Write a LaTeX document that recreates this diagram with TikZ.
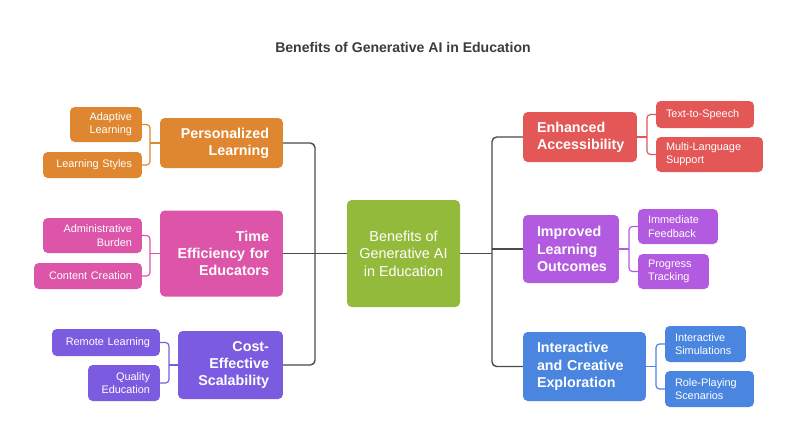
\documentclass[tikz,border=0pt]{standalone}
\usepackage{fontspec}
\setmainfont{Liberation Sans}
\definecolor{corange}{HTML}{DF8730}
\definecolor{cpink}{HTML}{DC55A8}
\definecolor{cpurple}{HTML}{7B5CE0}
\definecolor{cgreen}{HTML}{93BA3A}
\definecolor{cred}{HTML}{E35757}
\definecolor{cviolet}{HTML}{B35BE0}
\definecolor{cblue}{HTML}{4A86E0}
\definecolor{cline}{HTML}{4B4B4B}
\definecolor{ctitle}{HTML}{3C3C3C}
\begin{document}
\begin{tikzpicture}[x=0.03cm,y=-0.03cm,
	box/.style={rounded corners=4pt,text=white,inner ysep=0pt},
	mainL/.style={box,font=\fontsize{12.2}{14.7}\selectfont\bfseries,align=right,inner xsep=11.9pt},
	mainR/.style={box,font=\fontsize{12.2}{14.7}\selectfont\bfseries,align=left,inner xsep=11.9pt},
	subL/.style={box,font=\fontsize{9.3}{11.3}\selectfont,align=right,inner xsep=8.5pt},
	subR/.style={box,font=\fontsize{9.3}{11.3}\selectfont,align=left,inner xsep=8.5pt},
	trunk/.style={draw=cline,line width=1.2pt,rounded corners=4pt},
	branch/.style={line width=1pt,rounded corners=3pt}]
	\path[use as bounding box,fill=white] (0,0) rectangle (806,436);
	\node[font=\fontsize{12}{14}\selectfont\bfseries,text=ctitle] (title) at (403,47) {Benefits of Generative AI in Education};
	% centre
	\node[box,fill=cgreen,align=center,minimum width=3.39cm,minimum height=3.21cm,font=\fontsize{12.3}{15}\selectfont] (ai) at (403.5,253.5) {Benefits of\\Generative AI\\in Education};
	% left
	\node[mainL,fill=corange,text width=2.85cm,minimum height=1.5cm] (pers) at (221.5,143) {Personalized\\Learning};
	\node[mainL,fill=cpink,text width=2.85cm,minimum height=2.58cm] (time) at (221.5,253.5) {Time\\Efficiency for\\Educators};
	\node[mainL,fill=cpurple,text width=2.31cm,minimum height=2.04cm] (cost) at (230.5,365) {Cost-\\Effective\\Scalability};
	\node[subL,fill=corange,text width=1.56cm,minimum height=1.05cm] (adapt) at (106,124.5) {Adaptive\\Learning};
	\node[subL,fill=corange,text width=2.37cm,minimum height=0.78cm] (styles) at (92.5,165) {Learning Styles};
	\node[subL,fill=cpink,text width=2.37cm,minimum height=1.05cm] (admin) at (92.5,235.5) {Administrative\\Burden};
	\node[subL,fill=cpink,text width=2.64cm,minimum height=0.78cm] (content) at (88,276) {Content Creation};
	\node[subL,fill=cpurple,text width=2.64cm,minimum height=0.81cm] (remote) at (106,342.5) {Remote Learning};
	\node[subL,fill=cpurple,text width=1.56cm,minimum height=1.08cm] (quality) at (124,383) {Quality\\Education};
	% right
	\node[mainR,fill=cred,text width=2.58cm,minimum height=1.5cm] (acc) at (580,137) {Enhanced\\Accessibility};
	\node[mainR,fill=cviolet,text width=2.04cm,minimum height=2.04cm] (outc) at (571,249) {Improved\\Learning\\Outcomes};
	\node[mainR,fill=cblue,text width=2.85cm,minimum height=2.07cm] (expl) at (584.5,366.5) {Interactive\\and Creative\\Exploration};
	\node[subR,fill=cred,text width=2.34cm,minimum height=0.81cm] (tts) at (705,114.5) {Text-to-Speech};
	\node[subR,fill=cred,text width=2.61cm,minimum height=1.05cm] (lang) at (709.5,154.5) {Multi-Language\\Support};
	\node[subR,fill=cviolet,text width=1.8cm,minimum height=1.05cm] (feed) at (678,226.5) {Immediate\\Feedback};
	\node[subR,fill=cviolet,text width=1.53cm,minimum height=1.05cm] (track) at (673.5,271.5) {Progress\\Tracking};
	\node[subR,fill=cblue,text width=1.83cm,minimum height=1.08cm] (sim) at (705.5,344) {Interactive\\Simulations};
	\node[subR,fill=cblue,text width=2.07cm,minimum height=1.08cm] (role) at (709.5,389) {Role-Playing\\Scenarios};
	% trunk lines
	\coordinate (jl) at (315,253.5);
	\coordinate (jr) at (492,253.5);
	\draw[trunk] (pers.east) -| (jl) |- (cost.east);
	\draw[trunk] (time.east) -- (ai.west);
	\draw[trunk] (ai.east) -- (jr);
	\draw[trunk] (acc.west) -| (jr) |- (expl.west);
	\draw[trunk] (jr |- outc.west) -- (outc.west);
	% brackets
	\coordinate (bp) at (150,143);
	\coordinate (bt) at (150,253.5);
	\coordinate (bc) at (169,365);
	\coordinate (ba) at (647,137);
	\coordinate (bo) at (629,249);
	\coordinate (be) at (656,366.5);
	\foreach \m/\j/\a/\b/\c in {pers/bp/adapt/styles/corange,time/bt/admin/content/cpink,cost/bc/remote/quality/cpurple}{
		\draw[branch,draw=\c] (\m.west) -- (\j);
		\draw[branch,draw=\c] (\a.east) -| (\j) |- (\b.east);
	}
	\foreach \m/\j/\a/\b/\c in {acc/ba/tts/lang/cred,outc/bo/feed/track/cviolet,expl/be/sim/role/cblue}{
		\draw[branch,draw=\c] (\m.east) -- (\j);
		\draw[branch,draw=\c] (\a.west) -| (\j) |- (\b.west);
	}
\end{tikzpicture}
\end{document}
